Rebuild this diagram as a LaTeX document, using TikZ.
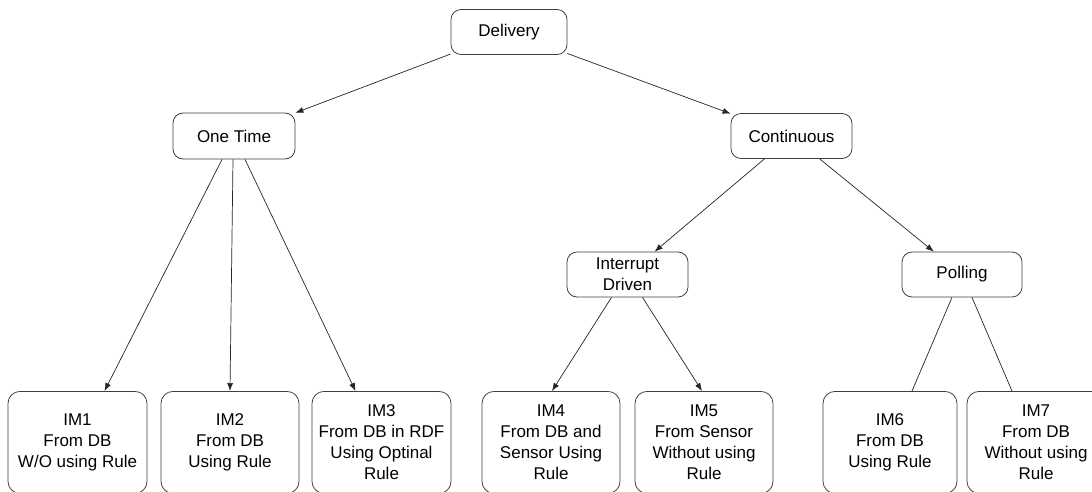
\documentclass[tikz,border=0pt]{standalone}
\usepackage{fontspec}
\setmainfont{Liberation Sans}
\usetikzlibrary{arrows.meta}
\begin{document}
\begin{tikzpicture}[x=1pt,y=-1pt,
  box/.style={draw=black!75,line width=0.8pt,rounded corners=10pt,fill=white,
    align=center,inner sep=0pt,font=\fontsize{17}{21}\selectfont},
  topbox/.style={box,minimum height=45pt},
  leaf/.style={box,anchor=north,minimum height=102pt,minimum width=138pt,rounded corners=12pt},
  conn/.style={draw=black!85,line width=0.7pt},
  arr/.style={conn,-{Latex[length=8pt,width=6pt]}}
]
\useasboundingbox (0,0) rectangle (1092,491);
\fill[white] (0,0) rectangle (1092,491);

\node[topbox,minimum width=116pt] (dl) at (509,32) {Delivery};
\node[topbox,minimum width=122pt,minimum height=46pt] (ot) at (234,136) {One Time};
\node[topbox,minimum width=121pt] (ct) at (791.5,136) {Continuous};
\node[topbox,minimum width=121pt] (id) at (627.5,274.5) {Interrupt\\Driven};
\node[topbox,minimum width=120pt] (po) at (962,274.5) {Polling};

\node[leaf,minimum width=139pt] (im1) at (77.5,391) {IM1\\From DB\\W/O using Rule};
\node[leaf] (im2) at (230,391) {IM2\\From DB\\Using Rule};
\node[leaf,minimum width=139pt] (im3) at (381.5,391) {IM3\\From DB in RDF\\Using Optinal\\Rule};
\node[leaf] (im4) at (551,391) {IM4\\From DB and\\Sensor Using\\Rule};
\node[leaf] (im5) at (704,391) {IM5\\From Sensor\\Without using\\Rule};
\node[leaf,minimum width=134pt] (im6) at (890,391) {IM6\\From DB\\Using Rule};
\node[leaf] (im7) at (1036,391) {IM7\\From DB\\Without using\\Rule};

\draw[arr] (dl) -- (ot);
\draw[arr] (dl) -- (ct);
\draw[arr] (ct) -- (id);
\draw[arr] (ct) -- (po);

\draw[arr] ([xshift=-12pt]ot.south) -- ([xshift=27pt]im1.north);
\draw[arr] ([xshift=-1pt]ot.south) -- ([xshift=0pt]im2.north);
\draw[arr] ([xshift=11pt]ot.south) -- ([xshift=-26pt]im3.north);

\draw[arr] ([xshift=-16pt]id.south) -- ([xshift=1pt]im4.north);
\draw[arr] ([xshift=15pt]id.south) -- ([xshift=-2pt]im5.north);

\draw[conn] ([xshift=-10pt]po.south) -- ([xshift=22pt]im6.north);
\draw[conn] ([xshift=10pt]po.south) -- ([xshift=-24pt]im7.north);
\end{tikzpicture}
\end{document}
